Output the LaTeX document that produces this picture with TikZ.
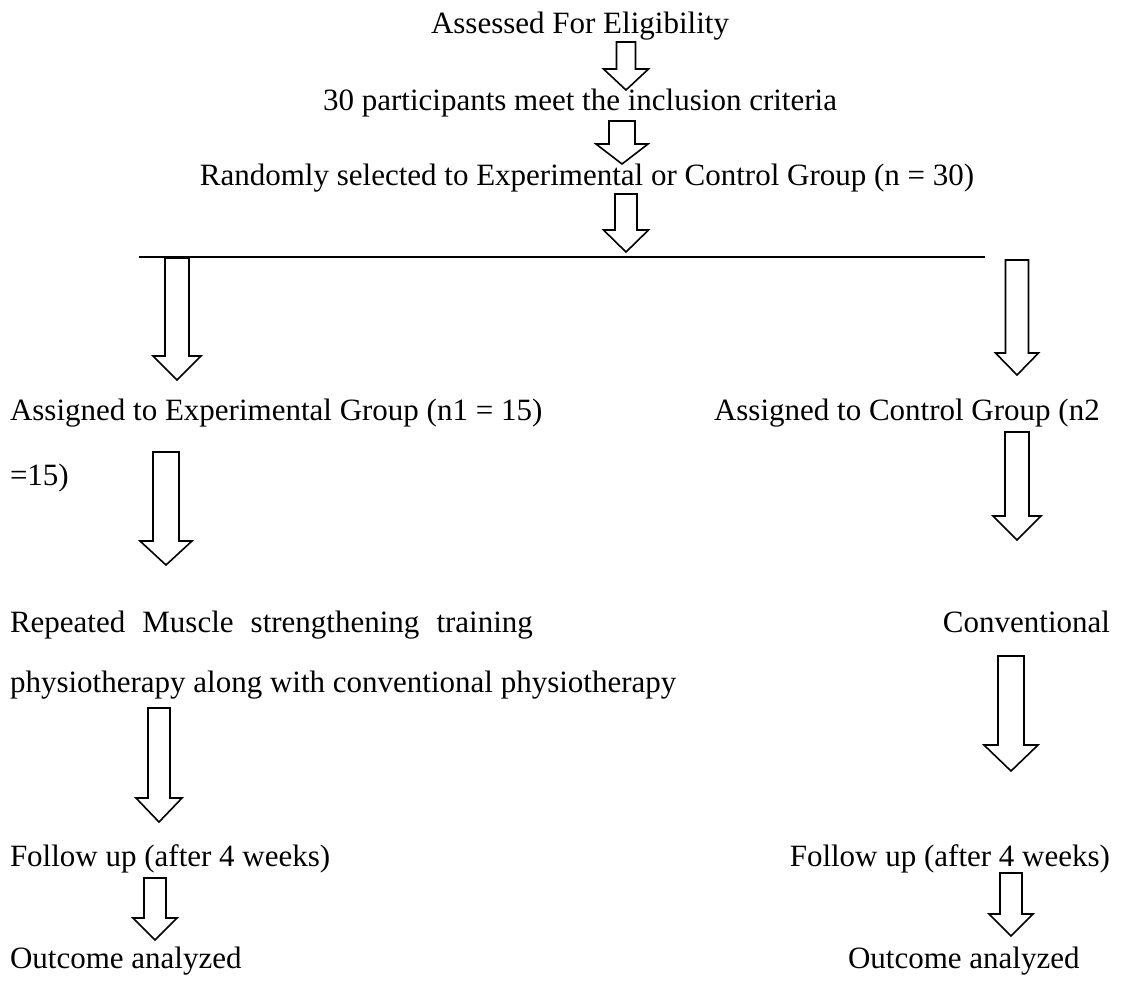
\documentclass[tikz,border=0pt]{standalone}
\usepackage{fontspec}
\setmainfont{Liberation Serif}
\usetikzlibrary{calc}
\tikzset{
  txt/.style={inner sep=0pt, outer sep=0pt, font=\fontsize{31}{37}\selectfont},
  arrowline/.style={draw=black, line width=1.6pt, fill=white, line join=miter},
  rule/.style={draw=black, line width=1.2pt}
}
% \blockarrow{top}{tip}{shaft half width}{head half width}{head length}
\newcommand\blockarrow[5]{%
  \path[arrowline] let \p1=(#1), \p2=(#2) in
    (\x1-#3pt,\y1) -- (\x1+#3pt,\y1) -- (\x1+#3pt,\y2+#5pt) -- (\x1+#4pt,\y2+#5pt)
    -- (\x2,\y2) -- (\x1-#4pt,\y2+#5pt) -- (\x1-#3pt,\y2+#5pt) -- cycle;}
\begin{document}
\begin{tikzpicture}[x=1pt,y=-1pt]
\useasboundingbox (0,0) rectangle (1126,994);
\fill[white] (0,0) rectangle (1126,994);
% texts
\node[txt, anchor=base] (t1) at (580,33) {Assessed For Eligibility};
\node[txt, anchor=base] (t2) at (580,110) {30 participants meet the inclusion criteria};
\node[txt, anchor=base] (t3) at (587,185) {Randomly selected to Experimental or Control Group (n = 30)};
\node[txt, anchor=base west] (le) at (10,420) {Assigned to Experimental Group (n1 = 15)};
\node[txt, anchor=base west] (rc) at (714,420) {Assigned to Control Group (n2};
\node[txt, anchor=base west] (le2) at (10,485) {=15)};
\node[txt, anchor=base west] (lr1) at (10,632) {\spaceskip=0.55em Repeated Muscle strengthening training};
\node[txt, anchor=base east] (rconv) at (1110,632) {Conventional};
\node[txt, anchor=base west] (lr2) at (10,692) {physiotherapy along with conventional physiotherapy};
\node[txt, anchor=base west] (lf) at (10,866) {Follow up (after 4 weeks)};
\node[txt, anchor=base east] (rf) at (1110,866) {Follow up (after 4 weeks)};
\node[txt, anchor=base west] (lo) at (10,968) {Outcome analyzed};
\node[txt, anchor=base west] (ro) at (848,968) {Outcome analyzed};
% coordinates
\coordinate (a1s) at (626,42);  \coordinate (a1e) at (626,90);
\coordinate (a2s) at (622,121); \coordinate (a2e) at (622,164);
\coordinate (a3s) at (626,194); \coordinate (a3e) at (626,252);
\coordinate (hl) at (139,257);  \coordinate (hr) at (985,257);
\coordinate (bls) at (177,258); \coordinate (ble) at (177,380);
\coordinate (brs) at (1017,260); \coordinate (bre) at (1017,375);
\coordinate (l2s) at (166,452); \coordinate (l2e) at (166,565);
\coordinate (r2s) at (1017,432); \coordinate (r2e) at (1017,540);
\coordinate (l3s) at (159,708); \coordinate (l3e) at (159,822);
\coordinate (r3s) at (1011,656); \coordinate (r3e) at (1011,771);
\coordinate (l4s) at (155,878); \coordinate (l4e) at (155,940);
\coordinate (r4s) at (1011,873); \coordinate (r4e) at (1011,936);
% arrows
\blockarrow{a1s}{a1e}{9.5}{22.5}{21}
\blockarrow{a2s}{a2e}{13}{26}{20}
\blockarrow{a3s}{a3e}{11}{22.5}{22}
\draw[rule] (hl) -- (hr);
\blockarrow{bls}{ble}{12}{24}{24}
\blockarrow{brs}{bre}{11.5}{21.5}{22}
\blockarrow{l2s}{l2e}{13}{26}{24}
\blockarrow{r2s}{r2e}{12}{24}{24}
\blockarrow{l3s}{l3e}{11}{23}{24}
\blockarrow{r3s}{r3e}{13}{27}{26}
\blockarrow{l4s}{l4e}{11}{22}{22}
\blockarrow{r4s}{r4e}{11}{22}{22}
\end{tikzpicture}
\end{document}
